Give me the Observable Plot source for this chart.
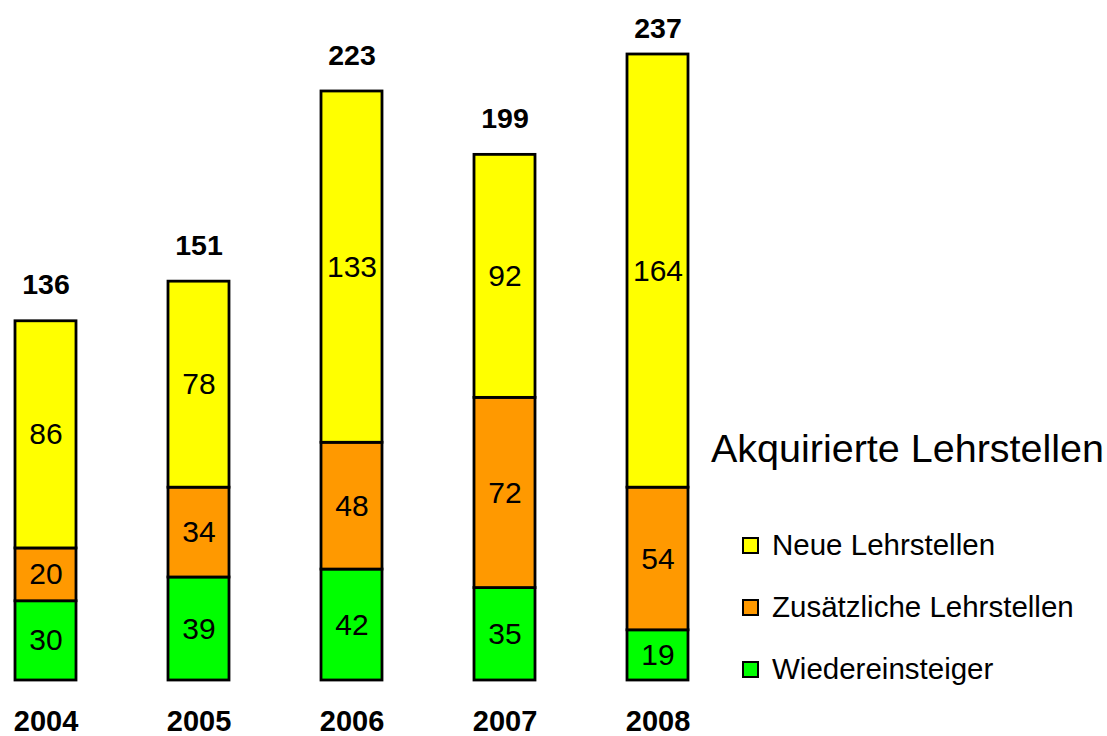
<!DOCTYPE html>
<html>
<head>
<meta charset="utf-8">
<script src="https://cdn.jsdelivr.net/npm/d3@7"></script>
<script src="https://cdn.jsdelivr.net/npm/@observablehq/plot@0.6"></script>
<style>
  html, body { margin: 0; padding: 0; background: #fff; }
  #wrap { position: relative; width: 1107px; height: 736px; font-family: "Liberation Sans", Arial, sans-serif; }
  #chart { position: absolute; left: 0; top: 0; }
  .ltitle { position: absolute; left: 711px; top: 428px; font-size: 39.5px; line-height: 40px; white-space: nowrap; color: #000; }
  .litem { position: absolute; left: 742px; height: 30px; display: flex; align-items: center; white-space: nowrap; font-size: 29.5px; color: #000; }
  .sw { width: 17px; height: 17px; box-sizing: border-box; border: 2px solid #000; margin-right: 13px; }
</style>
</head>
<body>
<div id="wrap">
  <div id="chart"></div>
</div>
<script>
const years = ["2004", "2005", "2006", "2007", "2008"];
const seriesNames = ["Wiedereinsteiger", "Zusätzliche Lehrstellen", "Neue Lehrstellen"];
const wiedereinsteiger = [30, 39, 42, 35, 19];
const zusaetzliche = [20, 34, 48, 72, 54];
const neue = [86, 78, 133, 92, 164];
const totals = [136, 151, 223, 199, 237];
const colors = ["#00FF00", "#FF9900", "#FFFF00"];
const legendTitle = "Akquirierte Lehrstellen";

const seriesValues = [wiedereinsteiger, zusaetzliche, neue];
const data = [];
seriesNames.forEach((s, i) => {
  years.forEach((y, j) => data.push({year: y, series: s, value: seriesValues[i][j]}));
});
const totalData = years.map((y, j) => ({year: y, total: totals[j]}));

const W = 1107, H = 736;
const mTop = 54, mBottom = 56;
const yMax = 237;
const k = (H - mTop - mBottom) / yMax;

const plot = Plot.plot({
  width: W,
  height: H,
  marginTop: mTop,
  marginBottom: mBottom,
  marginLeft: 13,
  marginRight: 417.5,
  style: {fontFamily: "'Liberation Sans', Arial, sans-serif", background: "#fff", overflow: "visible"},
  x: {domain: years, paddingInner: 0.6, paddingOuter: 0, axis: null},
  y: {domain: [0, yMax], axis: null},
  color: {domain: seriesNames, range: colors},
  marks: [
    Plot.barY(data, {x: "year", y: "value", z: "series", fill: "series", stroke: "#000", strokeWidth: 2.8}),
    Plot.text(data, Plot.stackY({x: "year", y: "value", z: "series", text: d => String(d.value), fontSize: 30, fill: "#000"})),
    Plot.text(totalData, {x: "year", y: d => Math.min(d.total + 36 / k, yMax + 26 / k), text: d => String(d.total), fontSize: 28.5, fontWeight: "bold", fill: "#000"}),
    Plot.text(years, {x: d => d, y: 0, dy: 41, text: d => d, fontSize: 29, fontWeight: "bold", fill: "#000"})
  ]
});
document.getElementById("chart").appendChild(plot);

const wrap = document.getElementById("wrap");
const t = document.createElement("div");
t.className = "ltitle";
t.textContent = legendTitle;
wrap.appendChild(t);

const legendOrder = [2, 1, 0];
const rowCenters = [545, 607, 669];
legendOrder.forEach((si, r) => {
  const it = document.createElement("div");
  it.className = "litem";
  it.style.top = (rowCenters[r] - 15) + "px";
  const sw = document.createElement("div");
  sw.className = "sw";
  sw.style.background = colors[si];
  const lab = document.createElement("span");
  lab.textContent = seriesNames[si];
  it.appendChild(sw);
  it.appendChild(lab);
  wrap.appendChild(it);
});
</script>
</body>
</html>
